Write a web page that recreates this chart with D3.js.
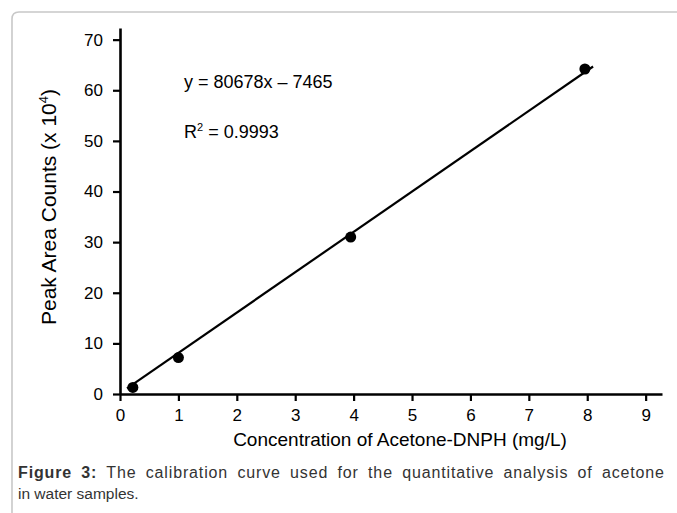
<!DOCTYPE html>
<html>
<head>
<meta charset="utf-8">
<script src="https://cdn.jsdelivr.net/npm/d3@7"></script>
<style>
  html, body { margin: 0; padding: 0; background: #fff; }
  svg text { font-family: "Liberation Sans", Arial, sans-serif; }
  .axis path, .axis line { stroke: #000; }
  .axis text { font-size: 17px; fill: #000; }
</style>
</head>
<body>
<div id="chart"></div>
<script>
// Calibration points (concentration mg/L, peak area x 10^4)
const concX   = [0.22, 1.0, 3.95, 7.96];
const areaY   = [1.3, 7.2, 31.0, 64.2];
// fitted line as drawn (two end points)
const fitX    = [0.12, 8.1];
const fitY    = [1.1, 64.7];
const xTicks  = [0, 1, 2, 3, 4, 5, 6, 7, 8, 9];
const yTicks  = [0, 10, 20, 30, 40, 50, 60, 70];
const eqnText = "y = 80678x \u2013 7465";

const W = 677, H = 513;
const svg = d3.select("#chart").append("svg").attr("width", W).attr("height", H);

// frame (rounded top-left, runs off the right edge)
svg.append("path")
  .attr("d", `M12,${H} V19 Q12,12 19,12 H${W}`)
  .attr("fill", "none").attr("stroke", "#c8c8c8").attr("stroke-width", 1.6);

const x = d3.scaleLinear().domain([0, 9.28]).range([120, 662]);
const y = d3.scaleLinear().domain([0, 72.3]).range([394, 28]);

const xa = svg.append("g").attr("class", "axis").attr("transform", `translate(0,${y(0)})`)
  .call(d3.axisBottom(x).tickValues(xTicks).tickSize(7).tickSizeOuter(0).tickPadding(8).tickFormat(d3.format("d")));
const ya = svg.append("g").attr("class", "axis").attr("transform", `translate(${x(0)},0)`)
  .call(d3.axisLeft(y).tickValues(yTicks).tickSize(7).tickSizeOuter(0).tickPadding(10).tickFormat(d3.format("d")));
[xa, ya].forEach(a => {
  a.select(".domain").attr("stroke-width", 2.6);
  a.selectAll(".tick line").attr("stroke-width", 2.2);
});

// fitted line
svg.append("path")
  .datum(d3.zip(fitX, fitY))
  .attr("fill", "none").attr("stroke", "#000").attr("stroke-width", 2.2)
  .attr("d", d3.line().x(d => x(d[0])).y(d => y(d[1])));

// data points
svg.selectAll(".pt").data(d3.zip(concX, areaY)).join("circle")
  .attr("class", "pt")
  .attr("cx", d => x(d[0])).attr("cy", d => y(d[1]))
  .attr("r", 5.5).attr("fill", "#000");

// equation + R^2
svg.append("text").attr("x", 184).attr("y", 88).attr("font-size", "18px").text(eqnText);
const r2 = svg.append("text").attr("x", 184).attr("y", 138).attr("font-size", "18px");
r2.append("tspan").text("R");
r2.append("tspan").attr("font-size", "11px").attr("dy", -7).text("2");
r2.append("tspan").attr("dy", 7).text(" = 0.9993");

// axis titles
svg.append("text").attr("x", 400).attr("y", 446).attr("text-anchor", "middle")
  .attr("font-size", "19px").text("Concentration of Acetone-DNPH (mg/L)");
const yl = svg.append("text")
  .attr("transform", "translate(56,207) rotate(-90)")
  .attr("text-anchor", "middle").attr("font-size", "21px");
yl.append("tspan").text("Peak Area Counts (x 10");
yl.append("tspan").attr("font-size", "13px").attr("dy", -8).text("4");
yl.append("tspan").attr("dy", 8).text(")");

// caption — first line justified out to the frame width
const capBold = "Figure 3:";
const capRest = " The calibration curve used for the quantitative analysis of acetone";
const cap = svg.append("text").attr("x", 18).attr("y", 478).attr("font-size", "16px").attr("fill", "#333")
  .attr("word-spacing", 4);
cap.append("tspan").attr("font-weight", "bold").text(capBold);
cap.append("tspan").text(capRest);
const capLen = cap.node().getComputedTextLength();
const nChars = (capBold + capRest).length;
cap.attr("letter-spacing", Math.max(0, (646 - capLen) / (nChars - 1)));
svg.append("text").attr("x", 18).attr("y", 499).attr("font-size", "15.5px").attr("fill", "#333")
  .text("in water samples.");
</script>
</body>
</html>
